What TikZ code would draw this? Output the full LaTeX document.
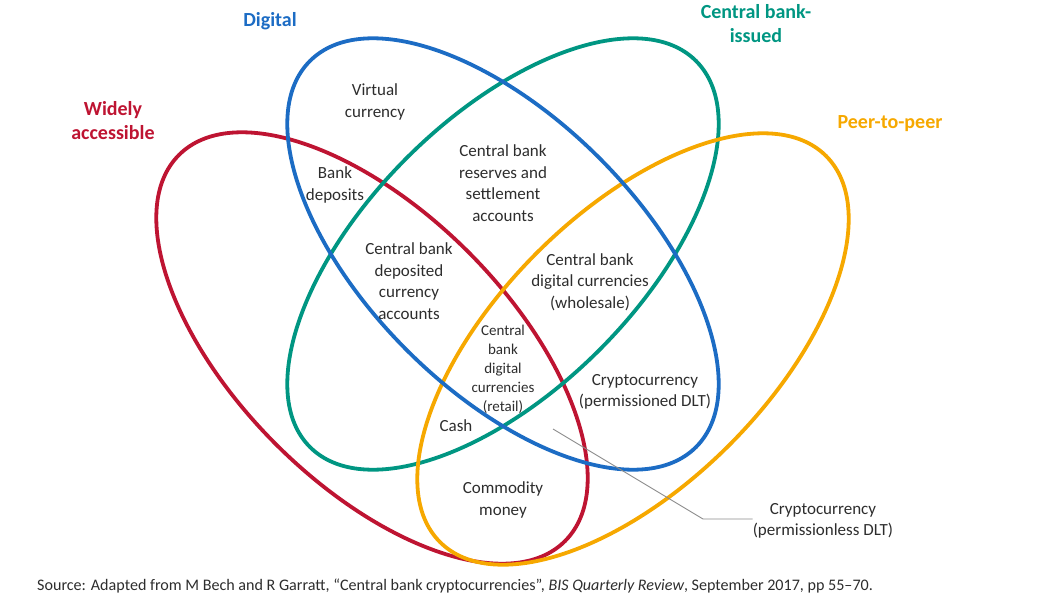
\documentclass[tikz,border=0pt]{standalone}
\usepackage{fontspec}
\setmainfont{Carlito}
\usepackage{tikz}
\usetikzlibrary{positioning}
\definecolor{BISRed}{RGB}{190,20,50}
\definecolor{BISBlue}{RGB}{28,108,196}
\definecolor{BISGreen}{RGB}{0,150,130}
\definecolor{BISOrange}{RGB}{246,168,0}
\definecolor{BISText}{RGB}{45,45,45}
\definecolor{BISGray}{RGB}{140,140,140}

\begin{document}
\begin{tikzpicture}[x=1pt,y=-1pt,
        ring/.style={line width=3.8pt},
        setlbl/.style={font=\fontsize{20}{24}\selectfont\bfseries,align=center,inner sep=0pt},
        lbl/.style={font=\fontsize{17}{21.5}\selectfont,text=BISText,align=center,inner sep=0pt},
        smalllbl/.style={lbl,font=\fontsize{15}{19}\selectfont},
        lead/.style={draw=BISGray,line width=0.9pt}
      ]
        \useasboundingbox (0,0) rectangle (1037,602);
        \draw[ring,BISRed,rotate around={-45:(372,348)}] (372,348) ellipse [x radius=273,y radius=136];
        \draw[ring,BISGreen,rotate around={45:(503,254)}] (503,254) ellipse [x radius=273,y radius=136];
        \draw[ring,BISOrange,rotate around={45:(633,349)}] (633,349) ellipse [x radius=273,y radius=136];
        \draw[ring,BISBlue,rotate around={-45:(503,254)}] (503,254) ellipse [x radius=273,y radius=136];
        \node[setlbl,text=BISBlue] (digital) at (270,21) {Digital};
        \node[setlbl,text=BISGreen] (cbissued) at (756,24) {Central bank-\\issued};
        \node[setlbl,text=BISRed] (widely) at (113,121) {Widely\\accessible};
        \node[setlbl,text=BISOrange] (p2p) at (890,124) {Peer-to-peer};
        \node[lbl] (virtual) at (375,102) {Virtual\\currency};
        \node[lbl] (bankdep) at (335,185) {Bank\\deposits};
        \node[lbl] (reserves) at (503,183) {Central bank\\reserves and\\settlement\\accounts};
        \node[lbl] (cbdeposited) at (409,281) {Central bank\\deposited\\currency\\accounts};
        \node[lbl] (wholesale) at (590,282) {Central bank\\digital currencies\\(wholesale)};
        \node[smalllbl] (retail) at (503,369) {Central\\bank\\digital\\currencies\\(retail)};
        \node[lbl] (cash) at (456,426) {Cash};
        \node[lbl] (permissioned) at (645,392) {Cryptocurrency\\(permissioned DLT)};
        \node[lbl] (commodity) at (503,500) {Commodity\\money};
        \node[lbl] (permissionless) at (823,521) {Cryptocurrency\\(permissionless DLT)};
        \coordinate (tip) at (553,429);
        \coordinate (knee) at (703,519);
        \draw[lead] (tip) -- (knee) -- (permissionless.west |- knee);
        \node[lbl,anchor=west,font=\fontsize{16.1}{19}\selectfont] (source) at (37,586)
          {Source: Adapted from M Bech and R Garratt, “Central bank cryptocurrencies”, \textit{BIS Quarterly Review}, September 2017, pp 55–70.};
      \end{tikzpicture}
\end{document}
